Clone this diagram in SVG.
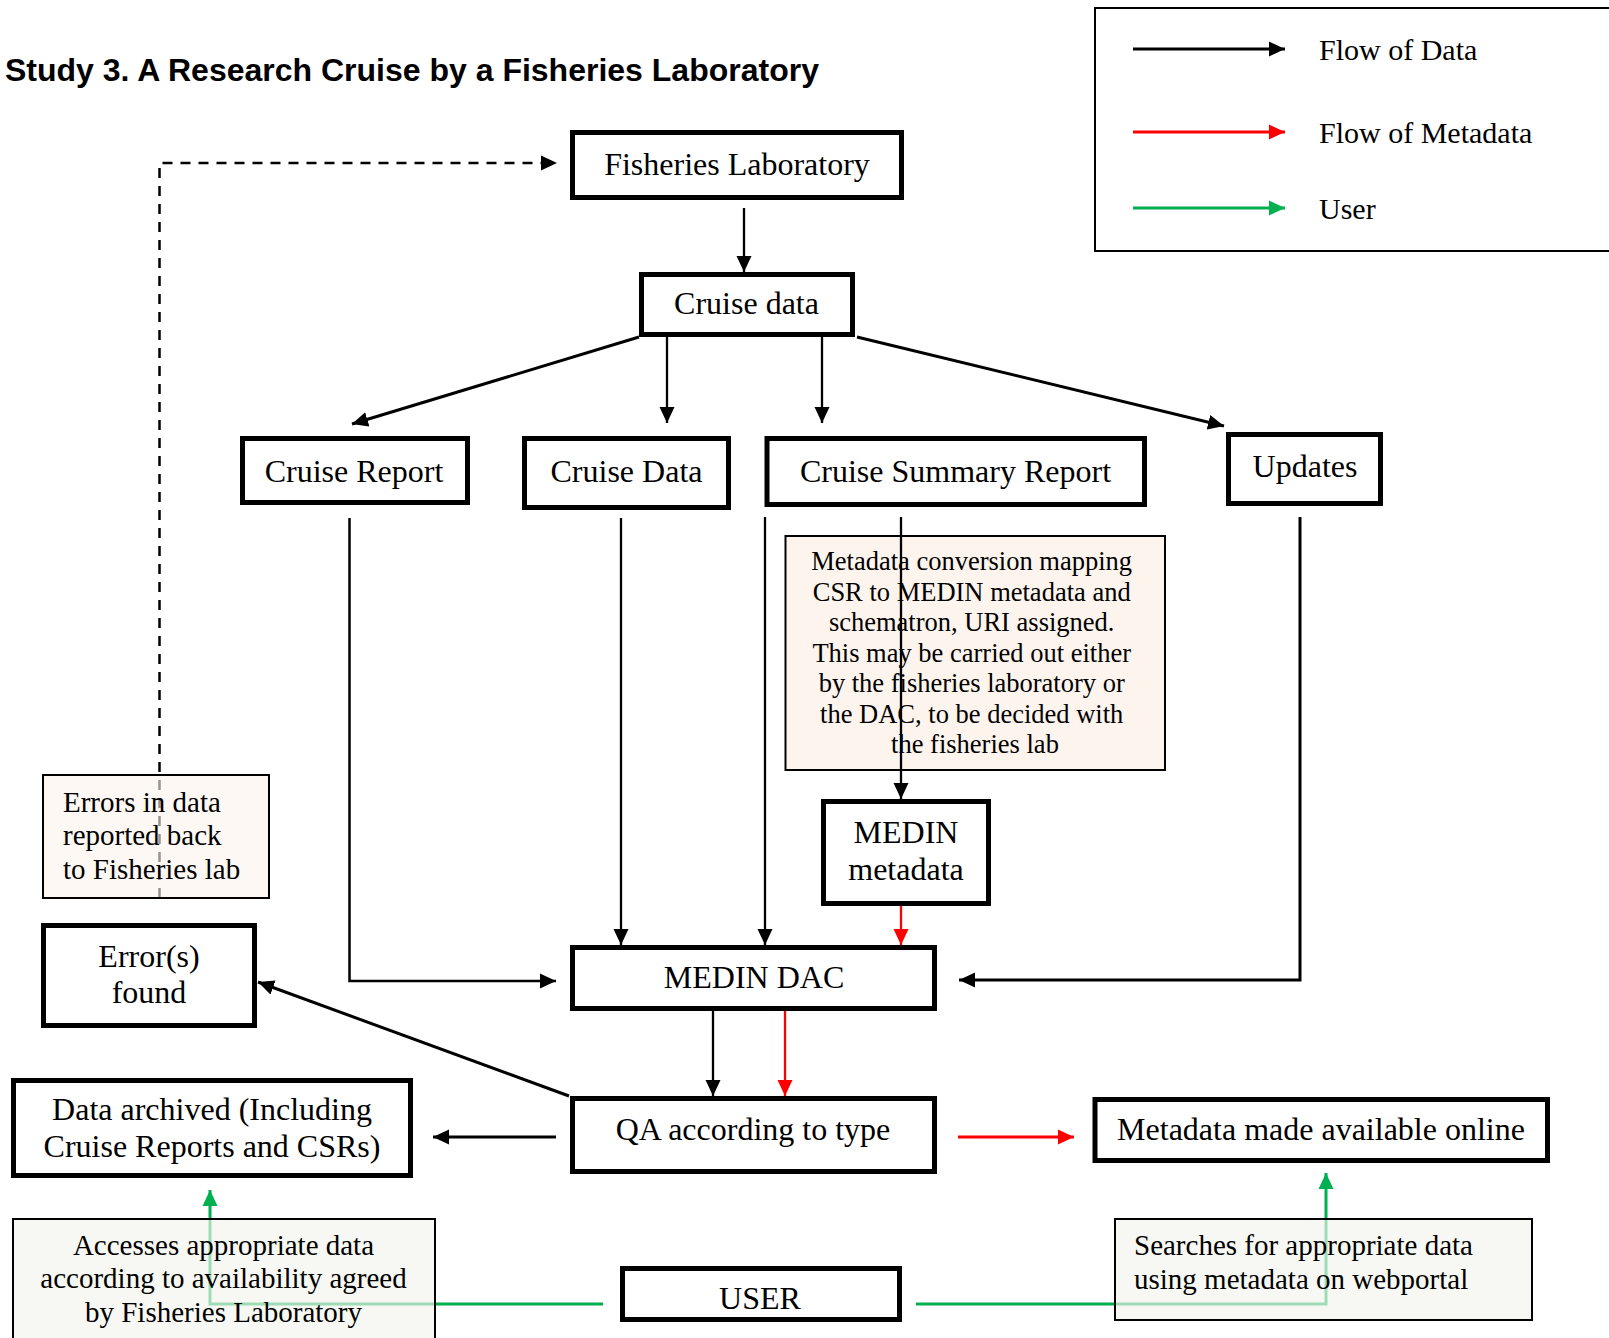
<svg xmlns="http://www.w3.org/2000/svg" width="1609" height="1338" viewBox="0 0 1609 1338">
<defs>
<marker id="ak" viewBox="0 0 16 16" refX="16" refY="8" markerWidth="16" markerHeight="16" markerUnits="userSpaceOnUse" orient="auto"><path d="M0,0.5 L16,8 L0,15.5 z" fill="#000"/></marker>
<marker id="ar" viewBox="0 0 16 16" refX="16" refY="8" markerWidth="16" markerHeight="16" markerUnits="userSpaceOnUse" orient="auto"><path d="M0,0.5 L16,8 L0,15.5 z" fill="#FF0000"/></marker>
<marker id="ag" viewBox="0 0 16 16" refX="16" refY="8" markerWidth="16" markerHeight="16" markerUnits="userSpaceOnUse" orient="auto"><path d="M0,0.5 L16,8 L0,15.5 z" fill="#00B050"/></marker>
</defs>
<style>
text{font-family:"Liberation Serif","Times New Roman",serif;fill:#000}
.n{font-size:32px;text-anchor:middle}
.nb{fill:#fff;stroke:#000;stroke-width:5}
.note{fill:#FDF4EE;stroke:#000;stroke-width:2}
.notet{fill:#FDF4EE;fill-opacity:0.6;stroke:#000;stroke-width:2}
.gnote{fill:#F2F5EC;fill-opacity:0.65;stroke:#000;stroke-width:2}
.s{font-size:29px}
.k{fill:none;stroke:#000;stroke-width:2.3;marker-end:url(#ak)}
.k3{fill:none;stroke:#000;stroke-width:3;marker-end:url(#ak)}
.r{fill:none;stroke:#FF0000;stroke-width:2.3;marker-end:url(#ar)}
.r3{fill:none;stroke:#FF0000;stroke-width:3;marker-end:url(#ar)}
.g{fill:none;stroke:#00B050;stroke-width:3;marker-end:url(#ag)}
.d{fill:none;stroke:#000;stroke-width:2.5;stroke-dasharray:10 8;marker-end:url(#ak)}
</style>
<rect width="1609" height="1338" fill="#fff"/>
<text x="5" y="81" style="font-family:'Liberation Sans',Arial,sans-serif;font-weight:bold;font-size:32px">Study 3. A Research Cruise by a Fisheries Laboratory</text>

<g id="legend">
<rect x="1095" y="8" width="530" height="243" fill="#fff" stroke="#000" stroke-width="2"/>
<line x1="1133" y1="49" x2="1285" y2="49" class="k3"/>
<line x1="1133" y1="132" x2="1285" y2="132" class="r3"/>
<line x1="1133" y1="208" x2="1285" y2="208" class="g"/>
<text x="1319" y="60" style="font-size:30px">Flow of Data</text>
<text x="1319" y="143" style="font-size:30px">Flow of Metadata</text>
<text x="1319" y="219" style="font-size:30px">User</text>
</g>

<g id="note-csr">
<rect x="785.5" y="536" width="379.5" height="234" class="note"/>
<text text-anchor="middle" style="font-size:26.5px">
<tspan x="975" y="570">Metadata conversion mapping</tspan>
<tspan x="975" y="600.5">CSR to MEDIN metadata and</tspan>
<tspan x="975" y="631">schematron, URI assigned.</tspan>
<tspan x="975" y="661.5">This may be carried out either</tspan>
<tspan x="975" y="692">by the fisheries laboratory or</tspan>
<tspan x="975" y="722.5">the DAC, to be decided with</tspan>
<tspan x="975" y="753">the fisheries lab</tspan>
</text>
</g>

<g id="connectors">
<line x1="744" y1="208" x2="744" y2="272" class="k"/>
<line x1="639" y1="337" x2="352" y2="424" class="k3"/>
<line x1="667" y1="337" x2="667" y2="423" class="k"/>
<line x1="822" y1="337" x2="822" y2="423" class="k"/>
<line x1="857" y1="337" x2="1224" y2="426" class="k3"/>
<polyline points="349.5,518 349.5,981 556,981" class="k" style="stroke-width:2.5"/>
<line x1="621" y1="518" x2="621" y2="945" class="k"/>
<line x1="765" y1="517" x2="765" y2="945" class="k"/>
<line x1="901" y1="517" x2="901" y2="799" class="k"/>
<line x1="901" y1="906" x2="901" y2="945" class="r"/>
<polyline points="1300,517 1300,980 959,980" class="k3"/>
<line x1="713" y1="1011" x2="713" y2="1096" class="k"/>
<line x1="785" y1="1011" x2="785" y2="1096" class="r"/>
<line x1="569" y1="1096" x2="258" y2="982" class="k3"/>
<line x1="556" y1="1137" x2="433" y2="1137" class="k3"/>
<line x1="958" y1="1137" x2="1074" y2="1137" class="r3"/>
<polyline points="603,1304 210,1304 210,1190" class="g"/>
<polyline points="916,1304 1326,1304 1326,1173" class="g"/>
<polyline points="159.5,898 159.5,163 557,163" class="d"/>
</g>

<g id="fisheries-lab"><rect x="572.5" y="132.5" width="329" height="65" class="nb"/><text x="737" y="175" class="n">Fisheries Laboratory</text></g>
<g id="cruise-data-top"><rect x="641.5" y="274.5" width="211" height="60" class="nb"/><text x="746.5" y="314" class="n">Cruise data</text></g>
<g id="cruise-report"><rect x="242.5" y="438.5" width="225" height="64" class="nb"/><text x="354" y="482" class="n">Cruise Report</text></g>
<g id="cruise-data"><rect x="524.5" y="438.5" width="204" height="69" class="nb"/><text x="626.5" y="482" class="n">Cruise Data</text></g>
<g id="csr"><rect x="767" y="438.5" width="377.5" height="66" class="nb"/><text x="955.5" y="482" class="n">Cruise Summary Report</text></g>
<g id="updates"><rect x="1228.5" y="434.5" width="152" height="69" class="nb"/><text x="1305" y="477" class="n">Updates</text></g>
<g id="medin-metadata"><rect x="823.5" y="801.5" width="165" height="102" class="nb"/><text class="n"><tspan x="906" y="843">MEDIN</tspan><tspan x="906" y="880">metadata</tspan></text></g>
<g id="medin-dac"><rect x="572.5" y="947.5" width="362" height="61" class="nb"/><text x="754" y="988" class="n">MEDIN DAC</text></g>
<g id="qa"><rect x="572.5" y="1098.5" width="362" height="73" class="nb"/><text x="753" y="1140" class="n">QA according to type</text></g>
<g id="errors-found"><rect x="43.5" y="925.5" width="211" height="100" class="nb"/><text class="n"><tspan x="149" y="967">Error(s)</tspan><tspan x="149" y="1003">found</tspan></text></g>
<g id="data-archived"><rect x="13.5" y="1080.5" width="397" height="95" class="nb"/><text class="n"><tspan x="212" y="1120">Data archived (Including</tspan><tspan x="212" y="1157">Cruise Reports and CSRs)</tspan></text></g>
<g id="metadata-online"><rect x="1095" y="1099.5" width="452.5" height="61" class="nb"/><text x="1321" y="1140" class="n">Metadata made available online</text></g>
<g id="user"><rect x="622.5" y="1268.5" width="277" height="51" class="nb"/><text x="760" y="1309" class="n">USER</text></g>

<g id="note-errors"><rect x="43" y="775" width="226" height="123" class="notet"/><text class="s"><tspan x="63" y="812">Errors in data</tspan><tspan x="63" y="845">reported back</tspan><tspan x="63" y="879">to Fisheries lab</tspan></text></g>
<g id="note-accesses"><rect x="13" y="1219" width="422" height="130" class="gnote"/><text class="s" text-anchor="middle"><tspan x="223.5" y="1255">Accesses appropriate data</tspan><tspan x="223.5" y="1288">according to availability agreed</tspan><tspan x="223.5" y="1322">by Fisheries Laboratory</tspan></text></g>
<g id="note-searches"><rect x="1115" y="1219" width="417" height="101" class="gnote"/><text class="s"><tspan x="1134" y="1255">Searches for appropriate data</tspan><tspan x="1134" y="1289">using metadata on webportal</tspan></text></g>
</svg>
